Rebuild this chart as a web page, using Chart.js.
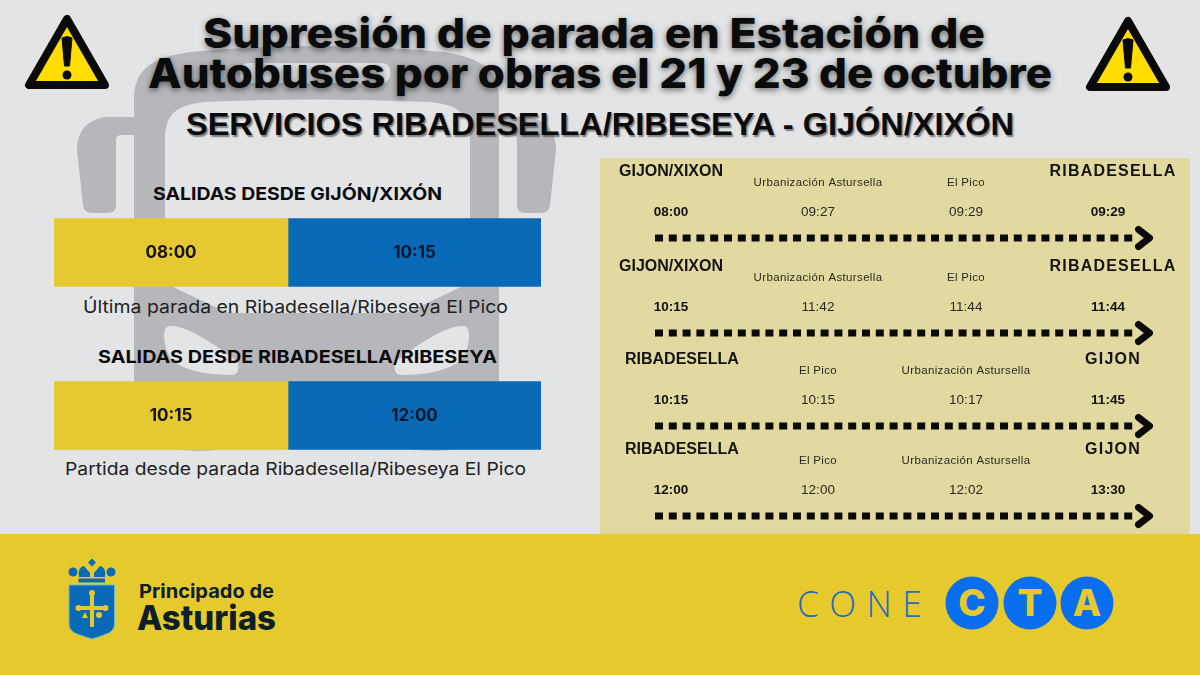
<!DOCTYPE html>
<html lang="es">
<head>
<meta charset="utf-8">
<script src="https://cdn.jsdelivr.net/npm/chart.js@4"></script>
<style>
html,body{margin:0;padding:0;width:1200px;height:675px;overflow:hidden;background:#e2e4e6}
#stage{position:relative;width:1200px;height:675px;overflow:hidden}
#stage>svg{position:absolute;left:0;top:0}
canvas{position:absolute}
.t{position:absolute;white-space:nowrap;transform-origin:0 50%;color:#0b0b0b}
#panel{position:absolute;left:600px;top:158px;width:590px;height:376px;background:#e2d9a1}
#band{position:absolute;left:0;top:533.5px;width:1200px;height:141.5px;background:#e6c92d}
.title{font:800 41px/40px Inter,sans-serif;text-shadow:0 2px 6px rgba(0,0,0,.55)}
.sub{font:bold 32px/34px "Liberation Sans",sans-serif;text-shadow:1.5px 1.5px 1.5px rgba(0,0,0,.45)}
.head{font:700 17.5px/22px Inter,sans-serif}
.note{font:400 17.5px/22px Inter,sans-serif;color:#222}
</style>
</head>
<body>
<div id="stage">
  <svg width="1200" height="675" viewBox="0 0 1200 675">
    <g id="bus">
      <path fill="#b6b7ba" fill-rule="evenodd" d="M134 445V100C134 70 150 58 190 52Q316 40 443 52C483 58 499 70 499 100V445ZM165 140V270Q165 283 175 288L226 312Q230 313 240 313H394Q404 313 408 312L459 288Q470 283 470 270V140C470 115 460 105 430 102Q317 97 205 102C175 105 165 115 165 140Z"/>
      <path id="mirror" fill="#b6b7ba" d="M134 117H105Q77 122 77 150L83 205Q84 213 92 213H108Q116 213 116 205V140Q116 135 122 135H134Z"/>
      <path fill="#b6b7ba" transform="translate(633 0) scale(-1 1)" d="M134 117H105Q77 122 77 150L83 205Q84 213 92 213H108Q116 213 116 205V140Q116 135 122 135H134Z"/>
      <rect x="240" y="63" width="150" height="20" rx="8" fill="#e2e4e6"/>
      <path fill="#e2e4e6" d="M170 326Q190 325 238 362Q240 375 232 375Q190 375 172 360Q164 350 164 335Q164 326 170 326Z"/>
      <path fill="#e2e4e6" transform="translate(633 0) scale(-1 1)" d="M170 326Q190 325 238 362Q240 375 232 375Q190 375 172 360Q164 350 164 335Q164 326 170 326Z"/>
      <ellipse cx="199" cy="445" rx="30" ry="6" fill="#b6b7ba"/>
      <ellipse cx="434" cy="445" rx="30" ry="6" fill="#b6b7ba"/>
    </g>
    <g id="warnL">
      <path d="M67 19L29 85H105Z" fill="#ffdd00" stroke="#0a0a0a" stroke-width="8" stroke-linejoin="round"/>
      <path d="M62 38Q67 35 72 38L69.500 66H64.500Z" fill="#0a0a0a" stroke="#0a0a0a" stroke-linejoin="round"/>
      <circle cx="67" cy="75" r="4.500" fill="#0a0a0a"/>
    </g>
    <g id="warnR" transform="translate(1061 2)">
      <path d="M67 19L29 85H105Z" fill="#ffdd00" stroke="#0a0a0a" stroke-width="8" stroke-linejoin="round"/>
      <path d="M62 38Q67 35 72 38L69.500 66H64.500Z" fill="#0a0a0a" stroke="#0a0a0a" stroke-linejoin="round"/>
      <circle cx="67" cy="75" r="4.500" fill="#0a0a0a"/>
    </g>
  </svg>

  <div class="t title" data-l="203" data-r="985" style="left:203px;top:13px">Supresión de parada en Estación de</div>
  <div class="t title" data-l="148" data-r="1052" style="left:148px;top:53px">Autobuses por obras el 21 y 23 de octubre</div>
  <div class="t sub" data-l="186" data-r="1014" style="left:186px;top:107px">SERVICIOS RIBADESELLA/RIBESEYA - GIJÓN/XIXÓN</div>

  <div class="t head" data-l="153" data-r="442" style="left:153px;top:183px">SALIDAS DESDE GIJÓN/XIXÓN</div>
  <div class="t note" data-l="83" data-r="508" style="left:83px;top:296px">Última parada en Ribadesella/Ribeseya El Pico</div>
  <div class="t head" data-l="98" data-r="497" style="left:98px;top:346px">SALIDAS DESDE RIBADESELLA/RIBESEYA</div>
  <div class="t note" data-l="65" data-r="526" style="left:65px;top:458px">Partida desde parada Ribadesella/Ribeseya El Pico</div>

  <div id="panel"></div>
  <div id="band"></div>

  <svg width="1200" height="675" viewBox="0 0 1200 675">
    <g id="shield">
      <path d="M69 585H114.500V624Q114.500 632 104 635L92 639L80 635Q69 632 69 624Z" fill="#0a6ab5" stroke="#6db1d6" stroke-width="1"/>
      <path d="M92 558.500L96 562.500L92 566.500L88 562.500Z" fill="#0a6ab5"/>
      <path d="M79 577C78 570 80 567 84 566L90 573V577ZM105 577C106 570 104 567 100 566L94 573V577Z" fill="#0a6ab5"/>
      <circle cx="73" cy="572" r="4.500" fill="#0a6ab5"/>
      <circle cx="111" cy="572" r="4.500" fill="#0a6ab5"/>
      <rect x="78.500" y="578.500" width="26.500" height="4" fill="#0a6ab5"/>
      <rect x="90" y="593" width="4" height="34" rx="1" fill="#e6c92d"/>
      <rect x="78" y="606" width="28" height="4" rx="1" fill="#e6c92d"/>
      <circle cx="92" cy="593" r="3" fill="#e6c92d"/>
      <circle cx="78.500" cy="608" r="3" fill="#e6c92d"/>
      <circle cx="105.500" cy="608" r="3" fill="#e6c92d"/>
      <path d="M82 618L85 612L88 618Z" fill="#e6c92d"/>
      <circle cx="99" cy="615" r="3" fill="#e6c92d"/>
    </g>
    <g fill="#0a6fef">
      <circle cx="972" cy="603" r="26.500"/>
      <circle cx="1030" cy="603" r="26.500"/>
      <circle cx="1087" cy="603" r="26.500"/>
    </g>
    <g font-family="Inter,sans-serif" font-weight="800" font-size="37" fill="#e6c92d" text-anchor="middle">
      <text x="972" y="616">C</text>
      <text x="1030" y="616">T</text>
      <text x="1087" y="616">A</text>
    </g>
  </svg>

  <div class="t" data-l="139" data-r="274" style="left:139px;top:581px;font:700 19px/22px Inter,sans-serif;color:#0b2027">Principado de</div>
  <div class="t" data-l="137" data-r="276" style="left:137px;top:598px;font:800 34px/40px Inter,sans-serif;color:#0b2027">Asturias</div>
  <div class="t" data-l="797" data-r="932" style="left:797px;top:583px;font:300 37px/40px 'Open Sans',sans-serif;letter-spacing:11px;color:#1f6cc0">CONE</div>

  <canvas id="bars" width="487" height="326" style="left:54px;top:170.500px"></canvas>
  <canvas id="route0" width="590" height="148" style="left:600px;top:163.500px"></canvas>
  <canvas id="route1" width="590" height="148" style="left:600px;top:259px"></canvas>
  <canvas id="route2" width="590" height="148" style="left:600px;top:352px"></canvas>
  <canvas id="route3" width="590" height="148" style="left:600px;top:442px"></canvas>
</div>

<script>
// ---- left table data
const departureGroups = ['Salidas desde Gijón/Xixón', 'Salidas desde Ribadesella/Ribeseya'];
const firstSlotShare = [234, 234];
const secondSlotShare = [253, 253];
const firstSlotTimes = ['08:00', '10:15'];
const secondSlotTimes = ['10:15', '12:00'];

// ---- right timetable data
const routeOrigins = ['GIJÓN/XIXÓN', 'GIJÓN/XIXÓN', 'RIBADESELLA', 'RIBADESELLA'];
const routeDestinations = ['RIBADESELLA', 'RIBADESELLA', 'GIJÓN', 'GIJÓN'];
const routeStopsA = ['Urbanización Asturnsella'.replace('Asturnsella', 'AsturI').replace('AsturI', 'AsturselLa').replace('selLa', 'sella'), 'El Pico'];
const routeStopsB = ['El Pico', routeStopsA[0]];
const routeStops = [routeStopsA, routeStopsA, routeStopsB, routeStopsB];
const route0Times = ['08:00', '09:27', '09:29', '09:29'];
const route1Times = ['10:15', '11:42', '11:44', '11:44'];
const route2Times = ['10:15', '10:15', '10:17', '11:45'];
const route3Times = ['12:00', '12:00', '12:02', '13:30'];
const routeTimes = [route0Times, route1Times, route2Times, route3Times];
const stopAlongRoute = [0, 147, 295, 437];

Chart.defaults.animation = false;
Chart.defaults.responsive = false;

// Fit HTML text to the measured span of the reference
document.querySelectorAll('.t[data-l]').forEach(el => {
  const want = el.dataset.r - el.dataset.l;
  const have = el.getBoundingClientRect().width;
  el.style.transform = 'scaleX(' + (want / have).toFixed(4) + ')';
});

const barLabels = {
  id: 'barLabels',
  afterDatasetsDraw(chart) {
    const ctx = chart.ctx;
    ctx.save();
    ctx.font = '700 17px Inter, sans-serif';
    ctx.textAlign = 'center';
    ctx.textBaseline = 'middle';
    chart.data.datasets.forEach((ds, d) => {
      chart.getDatasetMeta(d).data.forEach((bar, i) => {
        ctx.fillStyle = d === 0 ? '#141414' : '#07182c';
        ctx.fillText(ds.times[i], (bar.x + bar.base) / 2, bar.y);
      });
    });
    ctx.restore();
  }
};

new Chart(document.getElementById('bars'), {
  type: 'bar',
  data: {
    labels: departureGroups,
    datasets: [
      { data: firstSlotShare, times: firstSlotTimes, backgroundColor: '#e6c830', barThickness: 68 },
      { data: secondSlotShare, times: secondSlotTimes, backgroundColor: '#0869b6', barThickness: 68 }
    ]
  },
  options: {
    indexAxis: 'y',
    layout: { padding: 0 },
    plugins: { legend: { display: false }, tooltip: { enabled: false } },
    scales: {
      x: { display: false, stacked: true, min: 0, max: firstSlotShare[0] + secondSlotShare[0] },
      y: { display: false, stacked: true }
    }
  },
  plugins: [barLabels]
});

function chevron() {
  const c = document.createElement('canvas');
  c.width = 40; c.height = 32;
  const g = c.getContext('2d');
  g.strokeStyle = '#0a0a0a';
  g.lineWidth = 7;
  g.lineCap = 'round';
  g.lineJoin = 'round';
  g.beginPath();
  g.moveTo(23.5, 7.5);
  g.lineTo(34.5, 16);
  g.lineTo(23.5, 24.5);
  g.stroke();
  return c;
}
const arrowHead = chevron();

const routeLabels = {
  id: 'routeLabels',
  afterDatasetsDraw(chart) {
    const ctx = chart.ctx, x = chart.scales.x, y = chart.scales.y;
    const r = chart.options.plugins.routeLabels.route;
    const line = y.getPixelForValue(0);
    const px = stopAlongRoute.map(v => x.getPixelForValue(v));
    const originLeft = routeOrigins[r].startsWith('GIJ') ? px[0] - 52 : px[0] - 46;
    ctx.save();
    ctx.textBaseline = 'middle';
    ctx.fillStyle = '#141414';

    ctx.textAlign = 'left';
    ctx.font = 'bold 16px "Liberation Sans", sans-serif';
    ctx.letterSpacing = '0px';
    ctx.fillText(routeOrigins[r], originLeft, line - 66);

    ctx.textAlign = 'center';
    ctx.letterSpacing = '1.2px';
    ctx.fillText(routeDestinations[r], px[3] + 5, line - 66);

    ctx.font = '11.5px "Liberation Sans", sans-serif';
    ctx.letterSpacing = '0.35px';
    ctx.fillStyle = '#2a2a22';
    routeStops[r].forEach((s, i) => ctx.fillText(s, px[i + 1], line - 55));

    ctx.letterSpacing = '0px';
    routeTimes[r].forEach((t, i) => {
      const end = i === 0 || i === 3;
      ctx.font = (end ? 'bold ' : '') + '13.5px "Liberation Sans", sans-serif';
      ctx.fillStyle = end ? '#111' : '#2a2a22';
      ctx.fillText(t, px[i], line - 26);
    });
    ctx.restore();
  }
};

const axisStart = -16, axisEnd = 464;
routeTimes.forEach((times, r) => {
  const along = [axisStart, ...stopAlongRoute, axisEnd];
  new Chart(document.getElementById('route' + r), {
    type: 'line',
    data: {
      datasets: [{
        data: along.map(v => ({ x: v, y: 0 })),
        borderColor: '#0a0a0a',
        borderWidth: 7,
        borderDash: [8, 5.8],
        borderCapStyle: 'butt',
        tension: 0,
        clip: false,
        pointStyle: along.map((v, i) => i === along.length - 1 ? arrowHead : 'circle'),
        pointRadius: along.map((v, i) => i === along.length - 1 ? 10 : 0),
        pointBorderWidth: 0
      }]
    },
    options: {
      layout: { padding: { left: 55, right: 55, top: 0, bottom: 0 } },
      plugins: { legend: { display: false }, tooltip: { enabled: false }, routeLabels: { route: r } },
      scales: {
        x: { type: 'linear', display: false, min: axisStart, max: axisEnd },
        y: { type: 'linear', display: false, min: -1, max: 1 }
      }
    },
    plugins: [routeLabels]
  });
});
</script>
</body>
</html>
